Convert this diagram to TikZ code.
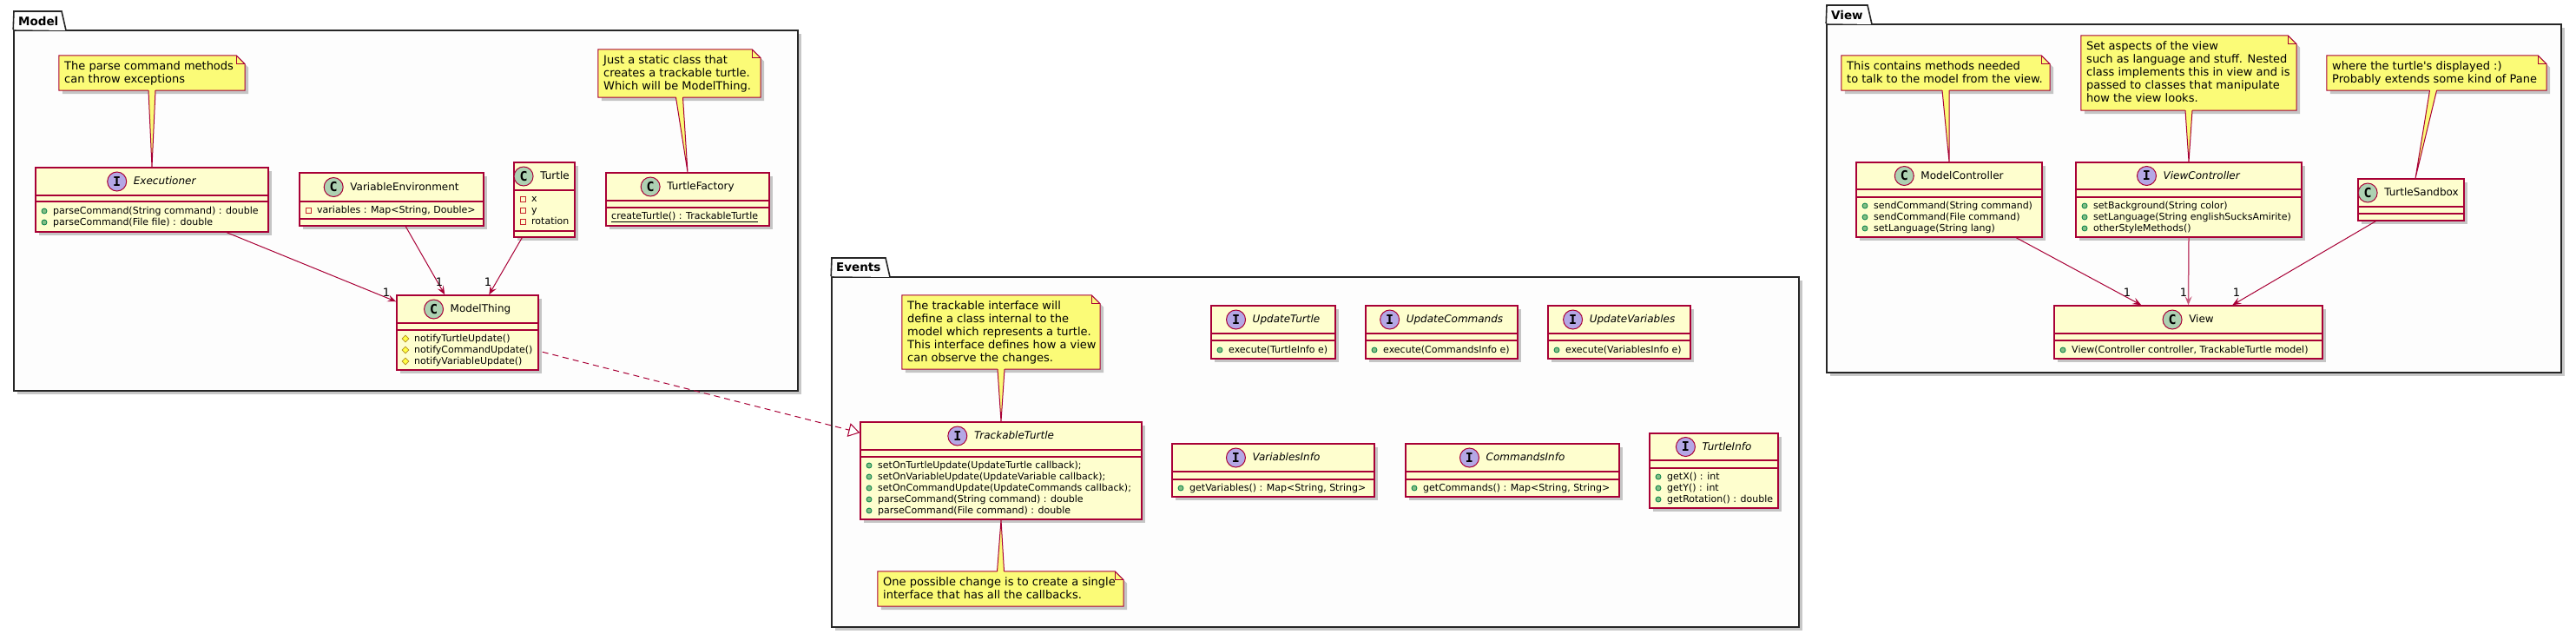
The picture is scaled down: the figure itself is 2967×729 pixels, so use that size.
\documentclass[tikz,border=0pt]{standalone}
\usepackage{fontspec}
\setmainfont{DejaVu Sans}[Ligatures=TeXOff, ItalicFont=* Oblique, BoldFont=* Bold, BoldItalicFont=* Bold Oblique]
\newfontfamily\spotfont{DejaVu Sans Mono}[UprightFont=* Bold]
\usetikzlibrary{arrows.meta,shapes.geometric,shadows,calc}
\definecolor{umlred}{HTML}{A80036}
\definecolor{classfill}{HTML}{FEFECE}
\definecolor{notefill}{HTML}{FBFB77}
\definecolor{spotC}{HTML}{ADD1B2}
\definecolor{spotI}{HTML}{B4A7E5}
\definecolor{pubfill}{HTML}{84BE84}
\definecolor{pubdraw}{HTML}{038048}
\definecolor{privdraw}{HTML}{C82930}
\definecolor{protfill}{HTML}{FFFF44}
\definecolor{protdraw}{HTML}{B38D22}
\definecolor{pkgfill}{HTML}{FDFDFD}
\newcount\ndc
\tikzset{
  shad/.style={drop shadow={shadow xshift=4pt, shadow yshift=-4pt, opacity=0.22, fill=black}},
  classbox/.style={draw=umlred, fill=classfill, line width=1.5pt, inner sep=0pt, shad},
  sepline/.style={draw=umlred, line width=1.5pt},
  pkgbody/.style={draw=black!85, fill=pkgfill, line width=1.6pt, inner sep=0pt, shad},
  pkgline/.style={draw=black!85, line width=1.6pt},
  pkgtitle/.style={anchor=west, inner sep=0pt, font=\bfseries\fontsize{13.5}{15}\selectfont},
  notearea/.style={inner sep=0pt, draw=none},
  notestyle/.style={draw=umlred, fill=notefill, line width=1pt, shad},
  noteline/.style={draw=umlred, line width=1pt},
  notetext/.style={anchor=north west, align=left, inner sep=0pt, font=\fontsize{13}{15}\selectfont},
  headtext/.style={inner sep=0pt, text height=9pt, text depth=2pt, font=\fontsize{12}{14}\selectfont},
  spot/.style={circle, minimum size=22pt, inner sep=0pt, draw=umlred, line width=1pt, font=\spotfont\fontsize{15}{15}\selectfont},
  memtext/.style={anchor=west, inner sep=0pt, text height=8pt, text depth=2pt, font=\fontsize{11}{13}\selectfont},
  pub/.style={circle, minimum size=6pt, inner sep=0pt, fill=pubfill, draw=pubdraw, line width=0.8pt},
  priv/.style={rectangle, minimum size=6pt, inner sep=0pt, draw=privdraw, line width=0.8pt},
  prot/.style={diamond, minimum size=8pt, inner sep=0pt, fill=protfill, draw=protdraw, line width=0.8pt},
  assoc/.style={draw=umlred, line width=1pt, -{Stealth[length=10pt, width=8pt, inset=4pt]}},
  realize/.style={draw=umlred, line width=1pt, dash pattern=on 7pt off 5pt, -{Triangle[length=13pt, width=16pt, fill=white]}},
  mult/.style={inner sep=0pt, font=\fontsize{13}{15}\selectfont},
}
\newcommand\umlbox[7]{%
  \node[classbox, minimum width={#4-#2}, minimum height={#5-#3}] (#1) at ({(#2+#4)/2},{(#3+#5)/2}) {};
  \draw[sepline] (#1.west |- 0,#6) -- (#1.east |- 0,#6) (#1.west |- 0,#7) -- (#1.east |- 0,#7);}
\newcommand\head[6]{%
  \node[headtext] (#1-n) at (#2+15,#3) {#6};
  \node[spot, fill=#5] (#1-s) at ($(#1-n.west)+(-19,0)$) {#4};}
\newcommand\mem[4]{%
  \global\advance\ndc by 1
  \node[#1] (icon\the\ndc) at (#2+10,#3) {};
  \node[memtext] (mtxt\the\ndc) at (#2+20,#3) {#4};}
\newcommand\umlnote[6]{%
  \node[notearea, minimum width={#4-#2}, minimum height={#5-#3}] (#1) at ({(#2+#4)/2},{(#3+#5)/2}) {};
  \draw[notestyle] (#1.south west) -- (#1.north west) -- ($(#1.north east)+(-10,0)$) -- ($(#1.north east)+(0,10)$) -- (#1.south east) -- cycle;
  \draw[noteline] ($(#1.north east)+(-10,0)$) -- ($(#1.north east)+(-10,10)$) -- ($(#1.north east)+(0,10)$);
  \node[notetext] (#1-t) at (#2+6,#3+6) {#6};}
\newcommand\tail[3]{%
  \fill[notefill] ($(#1)+(-4,#3)$) -- (#2) -- ($(#1)+(4,#3)$) -- cycle;
  \draw[noteline] ($(#1)+(-4,0)$) -- (#2) -- ($(#1)+(4,0)$);}
\newcommand\pkg[8]{%
  \node[pkgbody, minimum width={#5-#2}, minimum height={#6-#4}] (#1) at ({(#2+#5)/2},{(#4+#6)/2}) {};
  \path[fill=pkgfill] (#1.north west) -- (#2,#3) -- (#7-5,#3) -- (#7,#4) -- cycle;
  \draw[pkgline] (#1.north west) -- (#2,#3) -- (#7-5,#3) -- (#7,#4);
  \node[pkgtitle] (#1-t) at (#2+5,{(#3+#4)/2}) {#8};}
\begin{document}
\begin{tikzpicture}[x=1pt, y=-1pt]
\useasboundingbox[fill=white] (0,0) rectangle (2967,729);

% ---------------- packages ----------------
\pkg{pmodel}{16}{13}{35}{919}{450}{76}{Model}
\pkg{pevents}{958}{297}{319}{2072}{722}{1025}{Events}
\pkg{pview}{2104}{6}{28}{2950}{429}{2156}{View}

% ---------------- Model ----------------
\umlnote{n1}{68}{64}{282}{104}{The parse command methods\\can throw exceptions}
\umlnote{n2}{689}{57}{876}{112}{Just a static class that\\creates a trackable turtle.\\Which will be ModelThing.}

\umlbox{exe}{41}{193}{309}{267}{225}{232}
\head{exe}{175}{209}{I}{spotI}{\textit{Executioner}}
\mem{pub}{41}{243}{parseCommand(String command) : double}
\mem{pub}{41}{256}{parseCommand(File file) : double}

\umlbox{venv}{345}{199}{557}{260}{232}{252}
\head{venv}{451}{215.5}{C}{spotC}{VariableEnvironment}
\mem{priv}{345}{242}{variables : Map<String, Double>}

\umlbox{tur}{592}{187}{662}{273}{219}{266}
\head{tur}{624}{203}{C}{spotC}{Turtle}
\mem{priv}{592}{229}{x}
\mem{priv}{592}{242}{y}
\mem{priv}{592}{255}{rotation}

\umlbox{tf}{698}{199}{886}{260}{231}{239}
\head{tf}{792}{215}{C}{spotC}{TurtleFactory}
\node[memtext] (tfm) at (704,249) {\underline{createTurtle() : TrackableTurtle}};

\umlbox{mt}{457}{340}{620}{426}{372}{380}
\head{mt}{538.5}{356}{C}{spotC}{ModelThing}
\mem{prot}{457}{390}{notifyTurtleUpdate()}
\mem{prot}{457}{403}{notifyCommandUpdate()}
\mem{prot}{457}{416}{notifyVariableUpdate()}

\tail{n1.south}{exe.north}{-1}
\tail{n2.south}{tf.north}{-1}

\draw[assoc] ($(exe.south west)+(221,0)$) -- ($(mt.north west)+(0,8)$);
\draw[assoc] ($(venv.south west)+(123,0)$) -- ($(mt.north west)+(56,0)$);
\draw[assoc] ($(tur.south west)+(10,0)$) -- ($(mt.north west)+(107,0)$);
\node[mult] (m1) at (445,337) {1};
\node[mult] (m2) at (506,325) {1};
\node[mult] (m3) at (562,325) {1};

% ---------------- Events ----------------
\umlnote{n3}{1039}{340}{1267}{425}{The trackable interface will\\define a class internal to the\\model which represents a turtle.\\This interface defines how a view\\can observe the changes.}
\umlnote{n4}{1011}{658}{1294}{698}{One possible change is to create a single\\interface that has all the callbacks.}

\umlbox{tt}{991}{486}{1315}{598}{518}{526}
\head{tt}{1153}{502}{I}{spotI}{\textit{TrackableTurtle}}
\mem{pub}{991}{536}{setOnTurtleUpdate(UpdateTurtle callback);}
\mem{pub}{991}{549}{setOnVariableUpdate(UpdateVariable callback);}
\mem{pub}{991}{562}{setOnCommandUpdate(UpdateCommands callback);}
\mem{pub}{991}{575}{parseCommand(String command) : double}
\mem{pub}{991}{588}{parseCommand(File command) : double}

\tail{n3.south}{tt.north}{-1}
\tail{n4.north}{tt.south}{1}

\umlbox{ut}{1395}{352}{1538}{413}{384}{392}
\head{ut}{1466.5}{368}{I}{spotI}{\textit{UpdateTurtle}}
\mem{pub}{1395}{403}{execute(TurtleInfo e)}

\umlbox{uc}{1573}{352}{1748}{413}{384}{392}
\head{uc}{1660.5}{368}{I}{spotI}{\textit{UpdateCommands}}
\mem{pub}{1573}{403}{execute(CommandsInfo e)}

\umlbox{uv}{1783}{352}{1947}{413}{384}{392}
\head{uv}{1865}{368}{I}{spotI}{\textit{UpdateVariables}}
\mem{pub}{1783}{403}{execute(VariablesInfo e)}

\umlbox{vi}{1350}{511}{1583}{572}{543}{552}
\head{vi}{1466.5}{527}{I}{spotI}{\textit{VariablesInfo}}
\mem{pub}{1350}{562}{getVariables() : Map<String, String>}

\umlbox{ci}{1619}{511}{1865}{572}{543}{552}
\head{ci}{1742}{527}{I}{spotI}{\textit{CommandsInfo}}
\mem{pub}{1619}{562}{getCommands() : Map<String, String>}

\umlbox{ti}{1900}{499}{2048}{585}{530}{539}
\head{ti}{1974}{514.5}{I}{spotI}{\textit{TurtleInfo}}
\mem{pub}{1900}{549}{getX() : int}
\mem{pub}{1900}{562}{getY() : int}
\mem{pub}{1900}{575}{getRotation() : double}

\draw[realize] ($(mt.north east)+(4,66)$) -- ($(tt.north west)+(0,13)$);

% ---------------- View ----------------
\umlnote{n5}{2121}{64}{2361}{104}{This contains methods needed\\to talk to the model from the view.}
\umlnote{n6}{2397}{41}{2645}{127}{Set aspects of the view\\such as language and stuff. Nested\\class implements this in view and is\\passed to classes that manipulate\\how the view looks.}
\umlnote{n7}{2680}{64}{2933}{104}{where the turtle's displayed :)\\Probably extends some kind of Pane}

\umlbox{mc}{2138}{187}{2352}{273}{218}{227}
\head{mc}{2245}{202.5}{C}{spotC}{ModelController}
\mem{pub}{2138}{237}{sendCommand(String command)}
\mem{pub}{2138}{250}{sendCommand(File command)}
\mem{pub}{2138}{263}{setLanguage(String lang)}

\umlbox{vc}{2391}{187}{2651}{273}{218}{227}
\head{vc}{2521}{202.5}{I}{spotI}{\textit{ViewController}}
\mem{pub}{2391}{237}{setBackground(String color)}
\mem{pub}{2391}{250}{setLanguage(String englishSucksAmirite)}
\mem{pub}{2391}{263}{otherStyleMethods()}

\umlbox{ts}{2716}{206}{2838}{254}{238}{246}
\head{ts}{2774}{222}{C}{spotC}{TurtleSandbox}

\umlbox{vw}{2366}{352}{2675}{413}{384}{392}
\head{vw}{2520.5}{368}{C}{spotC}{View}
\mem{pub}{2366}{403}{View(Controller controller, TrackableTurtle model)}

\tail{n5.south}{mc.north}{-1}
\tail{n6.south}{vc.north}{-1}
\tail{$(n7.south)+(-4,0)$}{$(ts.north)+(5,0)$}{-1}

\draw[assoc] ($(mc.south west)+(185,0)$) -- ($(vw.north west)+(101,0)$);
\draw[assoc, draw=umlred!65, line width=1.5pt] (vc.south) -- (vw.north);
\draw[assoc] ($(ts.south west)+(21,0)$) -- ($(vw.north west)+(206,0)$);
\node[mult] (m4) at (2450,337) {1};
\node[mult] (m5) at (2515,337) {1};
\node[mult] (m6) at (2576,337) {1};
\end{tikzpicture}
\end{document}
